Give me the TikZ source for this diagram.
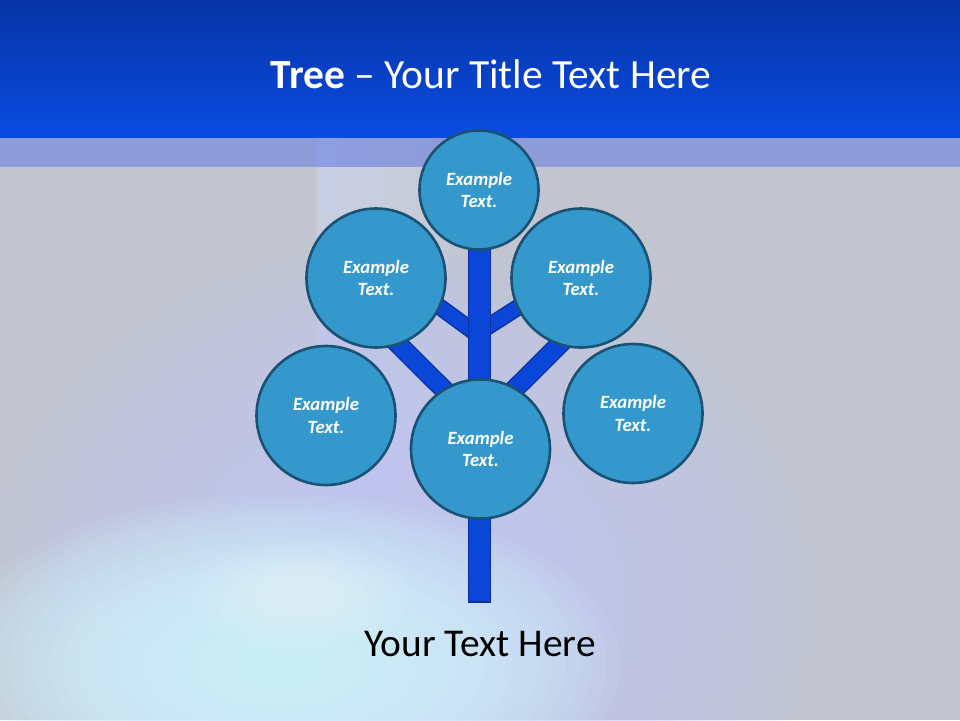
\documentclass[tikz,border=0pt]{standalone}
\usepackage{fontspec}
\setmainfont{Carlito}
\definecolor{hdrTop}{HTML}{0634A6}
\definecolor{hdrBot}{HTML}{0A4CE2}
\definecolor{bandcol}{HTML}{8F9AD8}
\definecolor{bgcol}{HTML}{C2C5CF}
\definecolor{lavglow}{HTML}{C0C4FA}
\definecolor{cyanglow}{HTML}{D4F8FF}
\definecolor{streakcol}{HTML}{D8DEFA}
\definecolor{bandstreak}{HTML}{94A6EE}
\definecolor{circfill}{HTML}{3598CC}
\definecolor{circdraw}{HTML}{1A5274}
\definecolor{trunkfill}{HTML}{0A46D8}
\definecolor{trunkdraw}{HTML}{0A30A4}
\tikzset{
  bubble/.style={circle, fill=circfill, draw=circdraw, line width=2.6pt,
    minimum size=139pt, inner sep=0pt, text=white, align=center,
    font=\fontsize{18.7}{22.7}\selectfont\bfseries\itshape},
  smallbubble/.style={bubble, minimum size=119pt},
  branchthin/.style={draw=trunkdraw, line width=1.4pt, double=trunkfill, double distance=14pt},
  branchthick/.style={draw=trunkdraw, line width=1.4pt, double=trunkfill, double distance=17pt},
  trunkbox/.style={rectangle, fill=trunkfill, draw=trunkdraw, line width=1.4pt,
    minimum width=21.5pt, minimum height=412pt, inner sep=0pt},
}
\begin{document}
\begin{tikzpicture}[x=1pt, y=-1pt]
\useasboundingbox (0,0) rectangle (960,720);
% background
\fill[bgcol] (0,0) rectangle (960,720);
\begin{scope}
\clip (0,167) rectangle (960,720);
% vertical light streak
\foreach \i in {1,...,14} {
  \fill[streakcol, opacity=0.06] (317,167) rectangle ({317+11*\i},{560-8*\i});
}
% lavender glow
\foreach \i in {1,...,30} {
  \fill[lavglow, opacity=0.065] (400,600) ellipse [x radius={420*\i/30}, y radius={360*\i/30}];
}
% cyan glow
\foreach \i in {1,...,25} {
  \fill[cyanglow, opacity=0.095] (280,665) ellipse [x radius={340*\i/25}, y radius={170*\i/25}];
}
\foreach \i in {1,...,10} {
  \fill[white, opacity=0.05] (300,595) ellipse [x radius={110*\i/10}, y radius={55*\i/10}];
}
\end{scope}
\fill[bandcol] (0,137) rectangle (960,167);
\foreach \i in {1,...,8} {
  \fill[bandstreak, opacity=0.1] (316,137) rectangle ({316+13*\i},167);
}
\shade[top color=hdrTop, bottom color=hdrBot] (0,0) rectangle (960,137);
% title
\node[anchor=base, text=white, font=\fontsize{41.5}{50}\selectfont] (title) at (491,88) {\textbf{Tree} – Your Title Text Here};
% tree
\coordinate (j1) at (479.5,336);
\coordinate (e1) at (418,291);
\coordinate (j2) at (479.5,332);
\coordinate (e2) at (542,292);
\coordinate (j3) at (479.5,425);
\coordinate (e3) at (393,339);
\coordinate (j4) at (479.5,424);
\coordinate (e4) at (566,338);
\draw[branchthin] (j1) -- (e1);
\draw[branchthin] (j2) -- (e2);
\draw[branchthick] (j3) -- (e3);
\draw[branchthick] (j4) -- (e4);
\node[trunkbox] (trunk) at (479.5,396) {};
\node[smallbubble] (top) at (479,190) {Example\\Text.};
\node[bubble] (ul) at (376,278) {Example\\Text.};
\node[bubble] (ur) at (581,278) {Example\\Text.};
\node[bubble] (ll) at (326,415.5) {Example\\Text.};
\node[bubble] (mid) at (480.5,449) {Example\\Text.};
\node[bubble] (lr) at (633,413.5) {Example\\Text.};
% bottom text
\node[anchor=base, text=black, font=\fontsize{39.4}{44}\selectfont] (caption) at (480,656) {Your Text Here};
\end{tikzpicture}
\end{document}
